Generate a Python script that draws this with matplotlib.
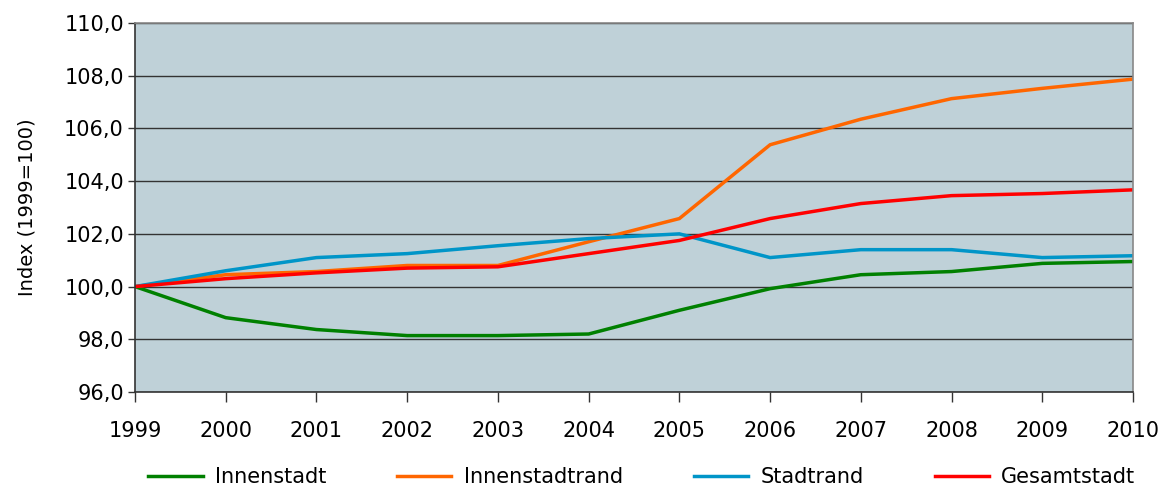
import matplotlib.pyplot as plt
from matplotlib.ticker import FuncFormatter

# data
years = list(range(1999, 2011))
innenstadt = [100.0, 98.82, 98.37, 98.14, 98.14, 98.2, 99.1, 99.92, 100.45, 100.57, 100.88, 100.95]
innenstadtrand = [100.0, 100.45, 100.57, 100.8, 100.8, 101.7, 102.58, 105.38, 106.35, 107.13, 107.52, 107.87]
stadtrand = [100.0, 100.6, 101.1, 101.25, 101.55, 101.82, 102.0, 101.1, 101.4, 101.4, 101.1, 101.17]
gesamtstadt = [100.0, 100.3, 100.52, 100.7, 100.75, 101.25, 101.75, 102.58, 103.15, 103.45, 103.53, 103.67]

series = [
    ("Innenstadt", innenstadt, "#008000"),
    ("Innenstadtrand", innenstadtrand, "#FF6600"),
    ("Stadtrand", stadtrand, "#0095C8"),
    ("Gesamtstadt", gesamtstadt, "#FF0000"),
]

plt.rcParams["font.family"] = "DejaVu Sans"

fig = plt.figure(figsize=(11.63, 4.95), dpi=100)
ax = fig.add_axes([135 / 1163, 1 - 392 / 495, (1133 - 135) / 1163, (392 - 23) / 495])
ax.set_facecolor("#BFD1D8")

for name, vals, color in series:
    ax.plot(years, vals, color=color, lw=2.5, label=name, solid_joinstyle="miter")

ax.set_xlim(1999, 2010)
ax.set_ylim(96, 110)
ax.set_xticks(years)
ax.set_yticks(range(96, 111, 2))
ax.yaxis.set_major_formatter(FuncFormatter(lambda v, p: f"{v:.1f}".replace(".", ",")))
ax.grid(axis="y", color="#333333", lw=1)
ax.set_axisbelow(True)

for s in ax.spines.values():
    s.set_color("#888888")
    s.set_linewidth(1.2)
ax.spines["left"].set_color("#333333")
ax.spines["bottom"].set_color("#333333")

ax.tick_params(axis="x", length=7, width=1, color="#333333", pad=14, labelsize=15)
ax.tick_params(axis="y", length=5, width=1, color="#333333", pad=3, labelsize=15)
ax.set_ylabel("Index (1999=100)", fontsize=14, labelpad=20)

fig.legend(loc="lower center", bbox_to_anchor=(0.552, -0.022), ncol=4, frameon=False,
           fontsize=15, handlelength=2.6, columnspacing=3.4, handletextpad=0.6)

fig.savefig("out.png", dpi=100)
